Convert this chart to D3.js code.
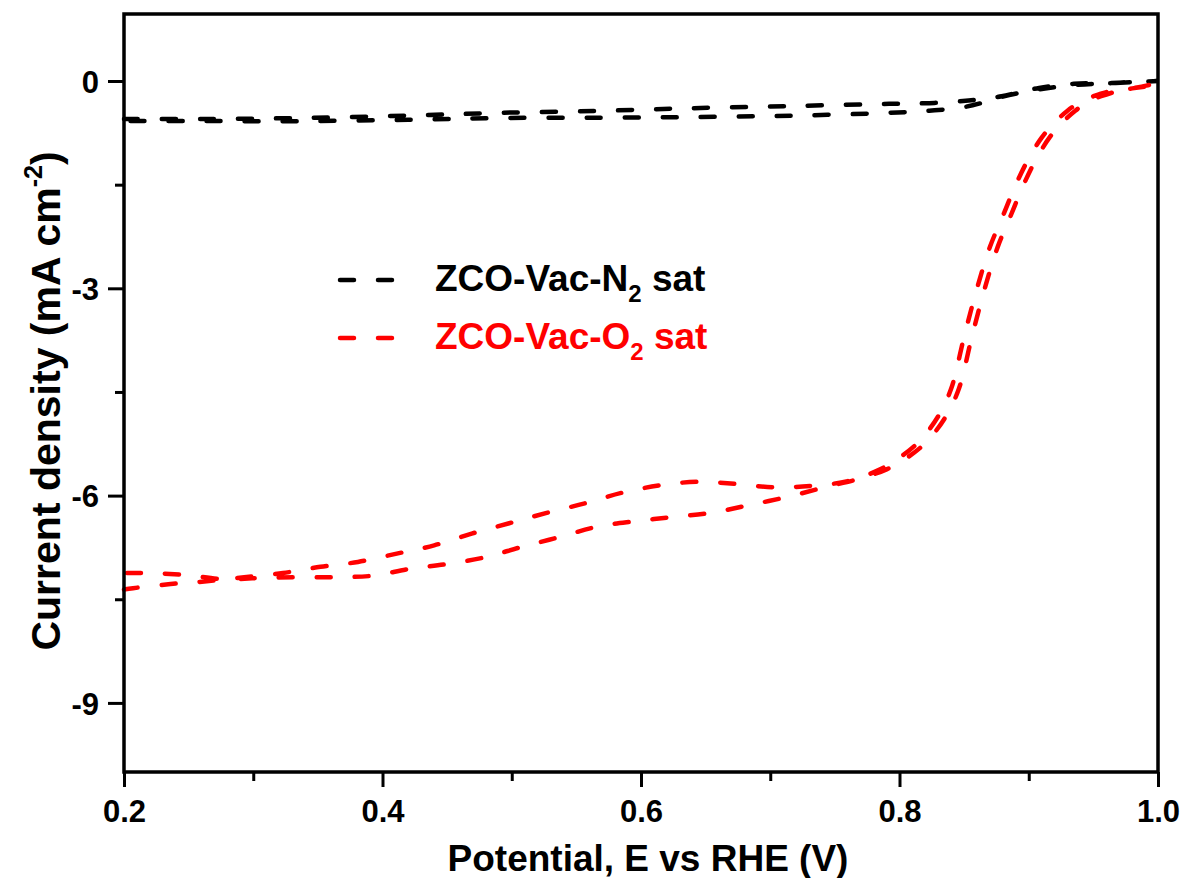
<!DOCTYPE html>
<html><head><meta charset="utf-8">
<script src="https://cdn.jsdelivr.net/npm/d3@7"></script>
<style>
body{margin:0;background:#fff;}
svg{display:block;}
text{font-family:"Liberation Sans",Arial,sans-serif;font-weight:bold;}
</style>
</head><body>
<svg id="c" width="1186" height="878"></svg>
<script>
// ---- data ----
const xTicks = [0.2, 0.4, 0.6, 0.8, 1.0];
const xMinor = [0.3, 0.5, 0.7, 0.9];
const yTicks = [-9, -6, -3, 0];
const yMinor = [-7.5, -4.5, -1.5];

// N2 saturated: two scan branches
const n2UpperV = [0.2, 0.26, 0.337, 0.42, 0.491, 0.57, 0.646, 0.72, 0.792, 0.823, 0.849, 0.865, 0.879, 0.893, 0.908, 0.935, 0.964, 1.0];
const n2UpperJ = [-0.55, -0.55, -0.535, -0.5, -0.46, -0.43, -0.39, -0.36, -0.33, -0.32, -0.29, -0.26, -0.22, -0.16, -0.10, -0.04, -0.03, 0.0];
const n2LowerV = [0.2, 0.26, 0.337, 0.42, 0.491, 0.57, 0.646, 0.72, 0.792, 0.823, 0.849, 0.865, 0.879, 0.893, 0.908, 0.935, 0.964, 1.0];
const n2LowerJ = [-0.58, -0.58, -0.58, -0.56, -0.535, -0.53, -0.52, -0.5, -0.46, -0.43, -0.38, -0.31, -0.23, -0.17, -0.12, -0.06, -0.03, 0.0];

// O2 saturated: two scan branches
const o2PeakV = [0.2, 0.207, 0.236, 0.264, 0.293, 0.323, 0.352, 0.381, 0.411, 0.44, 0.469, 0.498, 0.527, 0.557, 0.585, 0.615, 0.644, 0.673, 0.703, 0.731, 0.76, 0.785, 0.8, 0.815, 0.83, 0.84, 0.85, 0.86, 0.87, 0.88, 0.89, 0.9, 0.91, 0.92, 0.93, 0.94, 0.95, 0.96, 0.975, 0.99, 1.0];
const o2PeakJ = [-7.36, -7.34, -7.28, -7.24, -7.18, -7.12, -7.03, -6.96, -6.84, -6.72, -6.55, -6.40, -6.25, -6.11, -5.96, -5.85, -5.80, -5.83, -5.88, -5.86, -5.79, -5.62, -5.45, -5.22, -4.85, -4.45, -3.7, -3.0, -2.4, -1.95, -1.5, -1.12, -0.82, -0.6, -0.43, -0.3, -0.22, -0.16, -0.12, -0.08, -0.05];
const o2DipV = [0.2, 0.219, 0.248, 0.278, 0.307, 0.336, 0.365, 0.392, 0.421, 0.45, 0.48, 0.508, 0.537, 0.566, 0.596, 0.624, 0.654, 0.683, 0.713, 0.742, 0.77, 0.79, 0.806, 0.821, 0.836, 0.846, 0.856, 0.866, 0.876, 0.886, 0.896, 0.906, 0.916, 0.926, 0.936, 0.946, 0.956, 0.97, 0.985, 1.0];
const o2DipJ = [-7.12, -7.12, -7.15, -7.21, -7.19, -7.18, -7.18, -7.16, -7.06, -6.99, -6.89, -6.74, -6.60, -6.45, -6.37, -6.31, -6.25, -6.14, -6.02, -5.88, -5.75, -5.62, -5.45, -5.22, -4.85, -4.45, -3.7, -3.0, -2.4, -1.95, -1.5, -1.12, -0.82, -0.6, -0.43, -0.3, -0.22, -0.14, -0.09, -0.04];

const seriesLabels = ["ZCO-Vac-N", "ZCO-Vac-O"];
const seriesSubs = ["2", "2"];
const seriesTail = " sat";
const seriesColors = ["#000000", "#ff0000"];
const xTitle = "Potential, E vs RHE (V)";
const yTitleMain = "Current density (mA cm";
const yTitleSup = "-2";

// ---- layout ----
const svg = d3.select("#c");
const L = 124, R = 1158, T = 14, B = 772;
const x = d3.scaleLinear().domain([0.2, 1.0]).range([L, R]);
const y = d3.scaleLinear().domain([-10, 0.97]).range([B, T]);

const zip = (v, j) => v.map((d, i) => [d, j[i]]);
const loop = (a, b) => zip(a[0], a[1]).concat(zip(b[0], b[1]).reverse());
const seriesData = [
  loop([n2UpperV, n2UpperJ], [n2LowerV, n2LowerJ]),
  loop([o2PeakV, o2PeakJ], [o2DipV, o2DipJ])
];

const line = d3.line().x(d => x(d[0])).y(d => y(d[1])).curve(d3.curveCatmullRom.alpha(0.5));

const plot = svg.append("g");
seriesData.forEach((s, i) => {
  plot.append("path").datum(s).attr("d", line)
    .attr("fill", "none").attr("stroke", seriesColors[i])
    .attr("stroke-width", 4.5).attr("stroke-linecap", "round")
    .attr("stroke-dasharray", "14,24");
});

// frame
svg.append("rect").attr("x", L).attr("y", T).attr("width", R - L).attr("height", B - T)
  .attr("fill", "none").attr("stroke", "#000").attr("stroke-width", 3.5);

// axes
const ax = svg.append("g").attr("transform", `translate(0,${B})`)
  .call(d3.axisBottom(x).tickValues(xTicks).tickSize(15).tickPadding(13).tickFormat(d3.format(".1f")));
const axm = svg.append("g").attr("transform", `translate(0,${B})`)
  .call(d3.axisBottom(x).tickValues(xMinor).tickSize(9).tickFormat(""));
const ay = svg.append("g").attr("transform", `translate(${L},0)`)
  .call(d3.axisLeft(y).tickValues(yTicks).tickSize(16).tickPadding(9).tickFormat(d => d3.format("d")(d).replace("−", "-")));
const aym = svg.append("g").attr("transform", `translate(${L},0)`)
  .call(d3.axisLeft(y).tickValues(yMinor).tickSize(9).tickFormat(""));
[ax, axm, ay, aym].forEach(g => {
  g.select(".domain").remove();
  g.selectAll(".tick line").attr("stroke", "#000").attr("stroke-width", 3);
  g.selectAll(".tick text").attr("fill", "#000").attr("font-size", 31).attr("font-weight", "bold")
    .attr("font-family", "'Liberation Sans', Arial, sans-serif");
});
ay.selectAll(".tick text").attr("dy", "0.36em");

// axis titles
svg.append("text").attr("x", 648).attr("y", 871).attr("text-anchor", "middle")
  .attr("font-size", 37).text(xTitle);
const yt = svg.append("text").attr("transform", "translate(60,401) rotate(-90)")
  .attr("text-anchor", "middle").attr("font-size", 41);
yt.append("tspan").text(yTitleMain);
yt.append("tspan").attr("font-size", 25).attr("dy", -18).text(yTitleSup);
yt.append("tspan").attr("dy", 18).text(")");

// legend
const legY = [280, 338];
seriesLabels.forEach((lab, i) => {
  svg.append("line").attr("x1", 340).attr("x2", 396).attr("y1", legY[i]).attr("y2", legY[i])
    .attr("stroke", seriesColors[i]).attr("stroke-width", 4.5)
    .attr("stroke-linecap", "round").attr("stroke-dasharray", "14,24");
  const t = svg.append("text").attr("x", 435).attr("y", legY[i] + 11)
    .attr("font-size", 37).attr("fill", seriesColors[i]);
  t.append("tspan").text(lab);
  t.append("tspan").attr("font-size", 24).attr("dy", 11).text(seriesSubs[i]);
  t.append("tspan").attr("dy", -11).text(seriesTail);
});
</script>
</body></html>
